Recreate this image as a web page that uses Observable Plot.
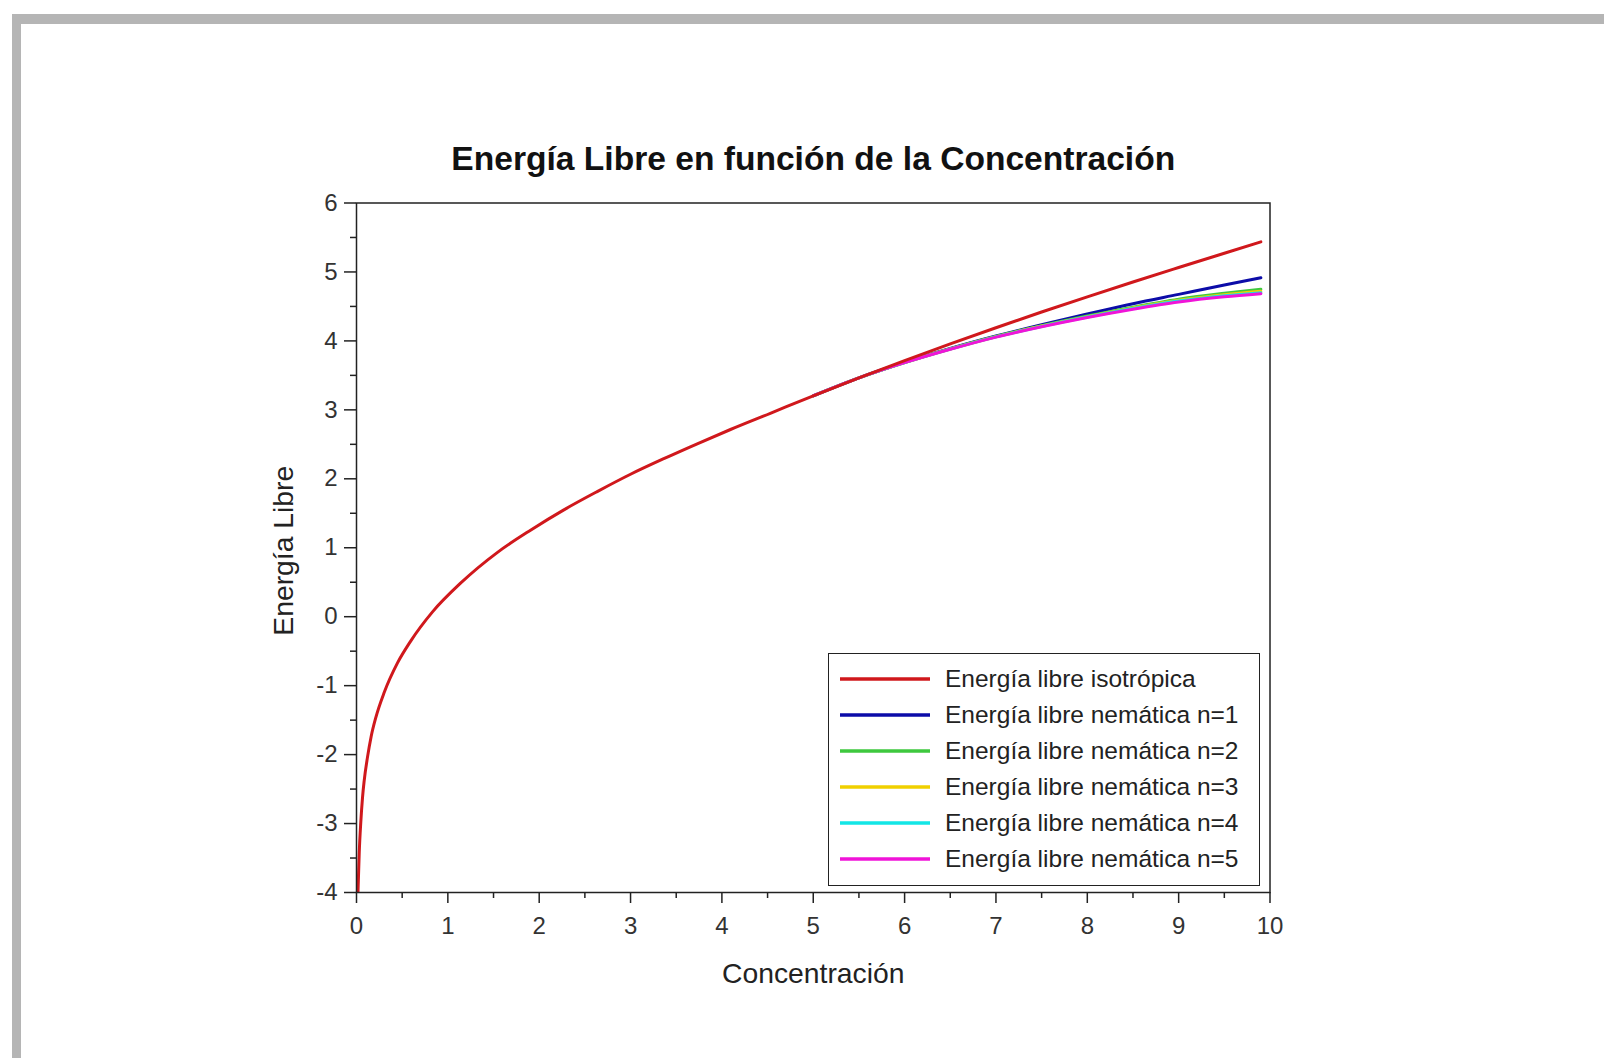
<!DOCTYPE html>
<html>
<head>
<meta charset="utf-8">
<script src="https://cdn.jsdelivr.net/npm/d3@7"></script>
<script src="https://cdn.jsdelivr.net/npm/@observablehq/plot@0.6"></script>
<style>
  html, body { margin: 0; padding: 0; background: #fff; }
  body { width: 1604px; height: 1058px; position: relative; overflow: hidden; font-family: "Liberation Sans", Arial, sans-serif; }
  #bandTop { position: absolute; left: 12px; top: 14px; width: 1592px; height: 10px; background: #b5b5b5; }
  #bandLeft { position: absolute; left: 12px; top: 14px; width: 9px; height: 1044px; background: #b5b5b5; }
  #chart { position: absolute; left: 0; top: 0; }
  #legend { position: absolute; left: 828px; top: 653px; width: 430px; height: 231px; border: 1.5px solid #222; background: #fff; }
  .row { position: absolute; left: 0; height: 36px; display: flex; align-items: center; }
  .row svg { margin-left: 11px; }
  .row span { margin-left: 15px; font-size: 24.5px; color: #222; white-space: nowrap; }
</style>
</head>
<body>
<div id="bandTop"></div>
<div id="bandLeft"></div>
<div id="chart"></div>
<div id="legend"></div>
<script>
// ---- data ----
const title = "Energía Libre en función de la Concentración";
const xLabel = "Concentración";
const yLabel = "Energía Libre";
const xTicks = [0, 1, 2, 3, 4, 5, 6, 7, 8, 9, 10];
const xMinorTicks = [0.5, 1.5, 2.5, 3.5, 4.5, 5.5, 6.5, 7.5, 8.5, 9.5];
const yTicks = [-4, -3, -2, -1, 0, 1, 2, 3, 4, 5, 6];
const yMinorTicks = [-3.5, -2.5, -1.5, -0.5, 0.5, 1.5, 2.5, 3.5, 4.5, 5.5];

const seriesNames = [
  "Energía libre isotrópica",
  "Energía libre nemática n=1",
  "Energía libre nemática n=2",
  "Energía libre nemática n=3",
  "Energía libre nemática n=4",
  "Energía libre nemática n=5"
];
const seriesColors = ["#d0181c", "#0c0ca8", "#3ec83e", "#f0d000", "#12e6e6", "#f014d8"];

// isotropic curve
const concIso = [0.016, 0.03, 0.047, 0.066, 0.084, 0.12, 0.16, 0.212, 0.303, 0.449, 0.595, 0.832, 1.142, 1.54, 1.905, 2.27, 2.635, 3.0, 3.364, 3.73, 4.094, 4.53, 5.0, 5.5, 6.0, 6.5, 7.0, 7.5, 8.0, 8.5, 9.0, 9.5, 9.9];
const isotropica = [-4.0, -3.42, -2.98, -2.62, -2.38, -2.04, -1.74, -1.46, -1.10, -0.67, -0.35, 0.07, 0.49, 0.93, 1.255, 1.55, 1.815, 2.066, 2.292, 2.508, 2.715, 2.95, 3.204, 3.464, 3.714, 3.956, 4.191, 4.419, 4.639, 4.854, 5.064, 5.272, 5.436];

// nematic curves (coincide with the isotropic one below ~5.5)
const concNem = [5.0, 5.5, 6.0, 6.5, 7.0, 7.5, 8.0, 8.5, 9.0, 9.5, 9.9];
const nematica1 = [3.204, 3.464, 3.69, 3.89, 4.07, 4.235, 4.39, 4.54, 4.675, 4.81, 4.915];
const nematica2 = [3.204, 3.464, 3.685, 3.885, 4.065, 4.22, 4.36, 4.49, 4.605, 4.69, 4.75];
const nematica3 = [3.204, 3.464, 3.685, 3.882, 4.06, 4.215, 4.352, 4.478, 4.59, 4.67, 4.72];
const nematica4 = [3.204, 3.464, 3.684, 3.88, 4.058, 4.21, 4.346, 4.47, 4.578, 4.655, 4.70];
const nematica5 = [3.204, 3.464, 3.684, 3.878, 4.055, 4.205, 4.34, 4.46, 4.565, 4.64, 4.685];

// ---- build tables ----
const isoData = concIso.map((c, i) => ({c, v: isotropica[i]}));
const nemSeries = [nematica1, nematica2, nematica3, nematica4, nematica5];
const nemData = nemSeries.map(arr => concNem.map((c, i) => ({c, v: arr[i]})));

const ink = "#222";
const fmt = d => String(d);
const marks = [
  Plot.axisX({ticks: xTicks, tickFormat: fmt, tickSize: 11, tickPadding: 13.5, fontSize: 24, label: null, stroke: ink, strokeWidth: 1.5, fill: "#333"}),
  Plot.axisX({ticks: xMinorTicks, tickSize: 6, text: null, label: null, stroke: ink, strokeWidth: 1.5}),
  Plot.axisY({ticks: yTicks, tickFormat: fmt, tickSize: 12, tickPadding: 7, fontSize: 24, label: null, stroke: ink, strokeWidth: 1.5, fill: "#333"}),
  Plot.axisY({ticks: yMinorTicks, tickSize: 6, text: null, label: null, stroke: ink, strokeWidth: 1.5})
];
nemData.forEach((d, i) => {
  marks.push(Plot.line(d, {x: "c", y: "v", stroke: seriesColors[i + 1], strokeWidth: 3, clip: true, curve: "monotone-x"}));
});
marks.push(Plot.line(isoData, {x: "c", y: "v", stroke: seriesColors[0], strokeWidth: 3, clip: true, curve: "monotone-x"}));
marks.push(Plot.frame({stroke: ink, strokeWidth: 1.5}));
marks.push(Plot.text([title], {frameAnchor: "top", dy: -33.5, lineAnchor: "bottom", textAnchor: "middle", fontSize: 33.6, fontWeight: "bold", fill: "#111"}));
marks.push(Plot.text([xLabel], {frameAnchor: "bottom", dy: 90, lineAnchor: "bottom", textAnchor: "middle", fontSize: 28.3, fill: ink}));
marks.push(Plot.text([yLabel], {frameAnchor: "left", dx: -64, dy: 3, rotate: -90, lineAnchor: "bottom", textAnchor: "middle", fontSize: 28.3, fill: ink}));

const chart = Plot.plot({
  width: 1604,
  height: 1058,
  marginLeft: 356,
  marginRight: 334.5,
  marginTop: 202.5,
  marginBottom: 166,
  x: {domain: [0, 10]},
  y: {domain: [-4, 6]},
  style: {fontFamily: "'Liberation Sans', Arial, sans-serif", background: "transparent", color: ink},
  marks
});
document.getElementById("chart").appendChild(chart);

// ---- legend ----
const legend = d3.select("#legend");
seriesNames.forEach((name, i) => {
  const row = legend.append("div").attr("class", "row").style("top", (7 + i * 36) + "px");
  const sw = row.append("svg").attr("width", 90).attr("height", 10);
  sw.append("line").attr("x1", 0).attr("x2", 90).attr("y1", 5).attr("y2", 5)
    .attr("stroke", seriesColors[i]).attr("stroke-width", 3.5);
  row.append("span").text(name);
});
</script>
</body>
</html>
